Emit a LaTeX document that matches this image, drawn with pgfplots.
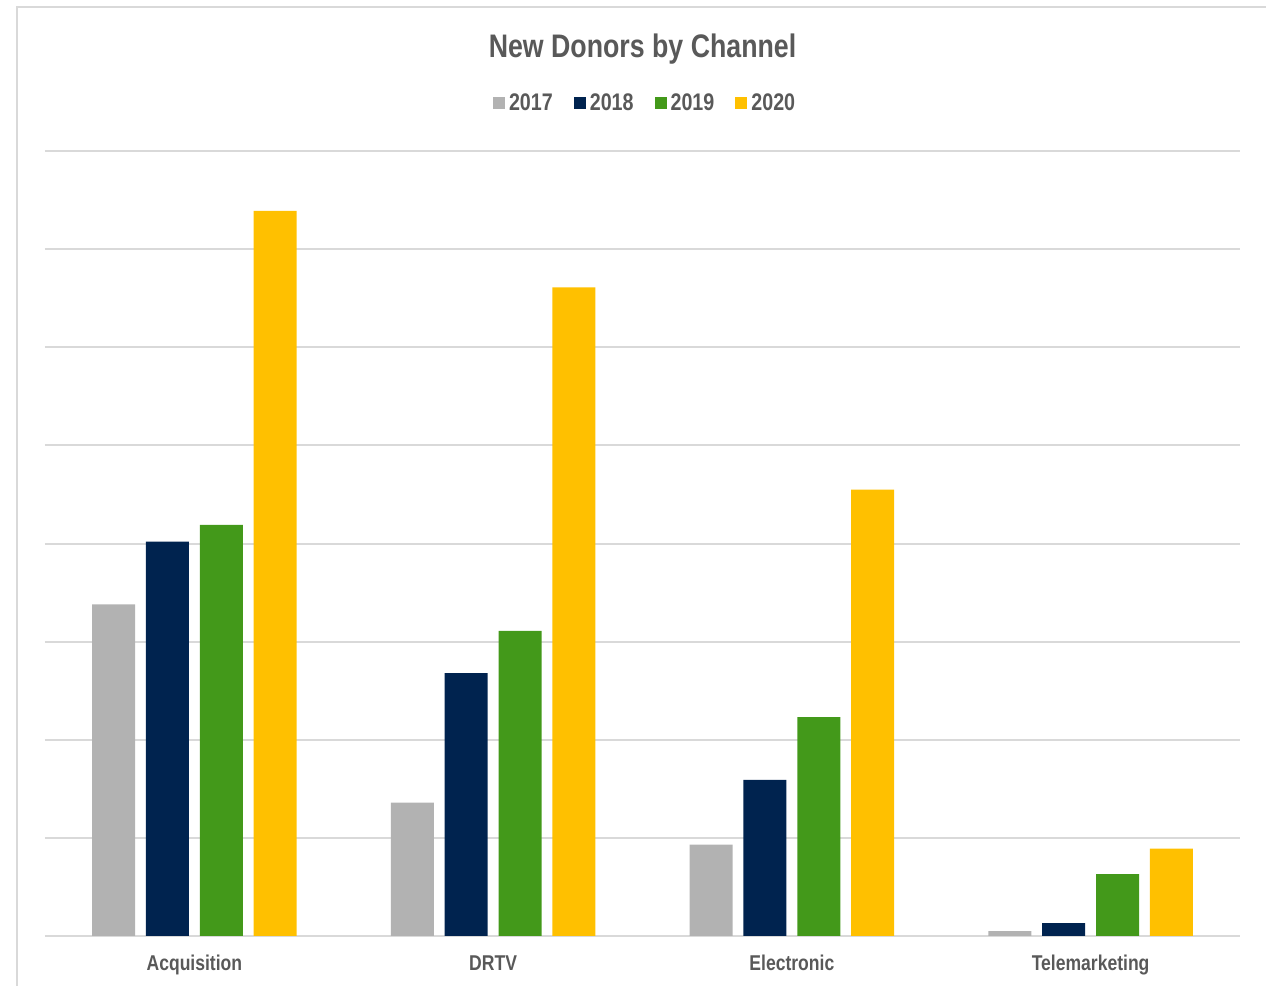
\documentclass[border=0pt]{standalone}
\usepackage{pgfplots}
\pgfplotsset{compat=1.18}
\usepackage{fontspec}
\setmainfont{Liberation Sans}[FakeStretch=0.82]

\definecolor{txtgray}{HTML}{595959}
\definecolor{gridgray}{HTML}{D9D9D9}
\definecolor{c2017}{HTML}{B2B2B2}
\definecolor{c2018}{HTML}{00234F}
\definecolor{c2019}{HTML}{43991A}
\definecolor{c2020}{HTML}{FFC000}

\begin{document}
\begin{tikzpicture}
  % page: 1266 x 986 px at 0.5pt per px
  \useasboundingbox (0,0) rectangle (633pt,493pt);
  \clip (0,0) rectangle (633pt,493pt);
  \draw[gridgray, line width=1pt] (8.5pt,-20pt) -- (8.5pt,489.5pt) -- (660pt,489.5pt);
  \begin{axis}[
    at={(22.5pt,25pt)}, anchor=south west,
    scale only axis,
    width=597.5pt, height=392.5pt,
    clip=false,
    ybar, bar width=0.144,
    xmin=-0.5, xmax=3.5,
    ymin=0, ymax=8,
    xtick={0,1,2,3},
    xticklabels={Acquisition,DRTV,Electronic,Telemarketing},
    ytick={0,1,...,8},
    yticklabels={},
    ymajorgrids=true,
    grid style={gridgray, line width=1pt},
    axis line style={draw=none},
    major tick length=0pt,
    tick style={draw=none},
    xticklabel style={anchor=base, yshift=-17.5pt, font=\fontsize{10.7}{12}\selectfont\bfseries, text=txtgray},
    legend columns=4,
    legend style={draw=none, fill=none, at={(0.503,1.061)}, anchor=center,
      font=\fontsize{12}{14}\selectfont\bfseries, text=txtgray,
      /tikz/every even column/.append style={column sep=8.5pt}},
    legend image code/.code={\fill[#1, draw=none] (0pt,-3pt) rectangle (6pt,3pt);},
    ]
    \addplot[fill=c2017, draw=none, bar shift=-0.27] coordinates {(0,3.38) (1,1.36) (2,0.93) (3,0.05)};
    \addplot[fill=c2018, draw=none, bar shift=-0.09] coordinates {(0,4.02) (1,2.68) (2,1.59) (3,0.13)};
    \addplot[fill=c2019, draw=none, bar shift=0.09] coordinates {(0,4.19) (1,3.11) (2,2.23) (3,0.63)};
    \addplot[fill=c2020, draw=none, bar shift=0.27] coordinates {(0,7.39) (1,6.61) (2,4.55) (3,0.89)};
    \legend{2017,2018,2019,2020}
    \node[anchor=base, text=txtgray, font=\fontsize{16.3}{19}\selectfont\bfseries]
      at (rel axis cs:0.5,1.1197) {New Donors by Channel};
  \end{axis}
\end{tikzpicture}
\end{document}
